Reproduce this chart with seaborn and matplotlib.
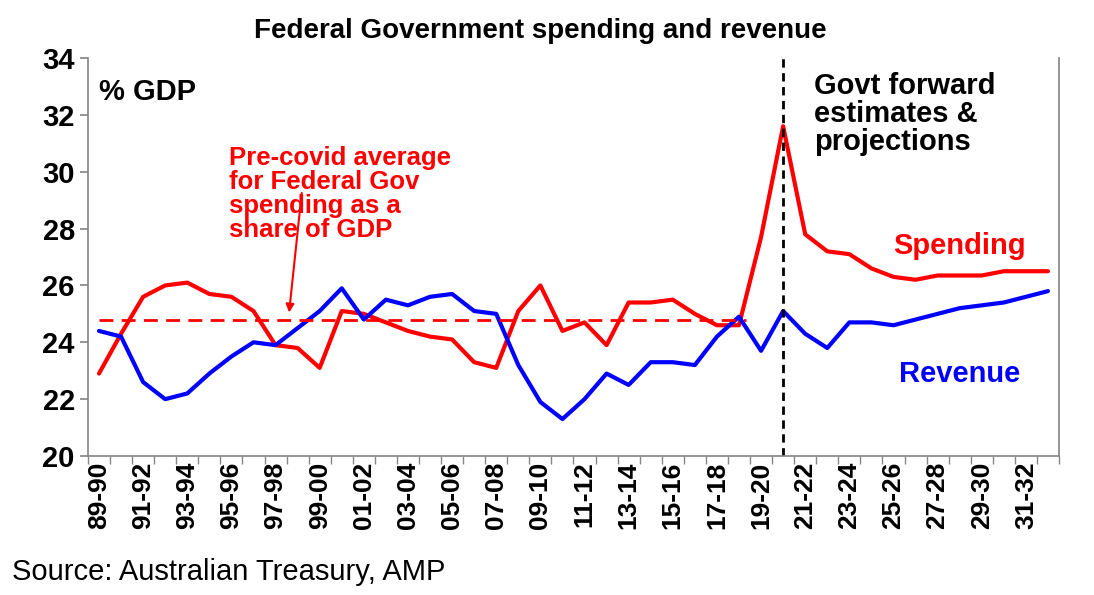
import matplotlib
matplotlib.use("Agg")
import matplotlib.pyplot as plt
import seaborn as sns
import pandas as pd

years = list(range(1989, 2033))
labels = [f"{y%100:02d}-{(y+1)%100:02d}" for y in years]
spending = [22.9,24.3,25.6,26.0,26.1,25.7,25.6,25.1,23.9,23.8,23.1,25.1,25.0,24.7,24.4,24.2,24.1,23.3,23.1,25.1,
            26.0,24.4,24.7,23.9,25.4,25.4,25.5,25.0,24.6,24.6,27.7,31.6,27.8,27.2,27.1,26.6,26.3,26.2,26.35,26.35,
            26.35,26.5,26.5,26.5]
revenue = [24.4,24.2,22.6,22.0,22.2,22.9,23.5,24.0,23.9,24.5,25.1,25.9,24.8,25.5,25.3,25.6,25.7,25.1,25.0,23.2,
           21.9,21.3,22.0,22.9,22.5,23.3,23.3,23.2,24.2,24.9,23.7,25.1,24.3,23.8,24.7,24.7,24.6,24.8,25.0,25.2,
           25.3,25.4,25.6,25.8]
precovid_avg = 24.8

sns.set_theme(style="white")
plt.rcParams['font.family'] = ['Liberation Sans', 'DejaVu Sans']
plt.rcParams['text.color'] = 'black'
df = pd.DataFrame({"i": range(len(years)), "Spending": spending, "Revenue": revenue})

fig = plt.figure(figsize=(10.94, 5.95), dpi=100)
ax = fig.add_axes([0.0804, 0.2336, 0.8876, 0.6689])
sns.lineplot(data=df, x="i", y="Spending", color="#ff0000", lw=3, ax=ax)
sns.lineplot(data=df, x="i", y="Revenue", color="#0000ff", lw=3, ax=ax)
ax.plot([0, 29.3], [precovid_avg]*2, color="#ff0000", ls=(0, (5, 3)), lw=2)
ax.axvline(31, color="black", ls=(0, (3, 2)), lw=2)

ax.set_xlim(-0.45, 43.5)
ax.set_ylim(20, 34)
ax.set_yticks(range(20, 35, 2))
ax.set_xticks(range(0, 44, 2))
ax.set_xticks([i + 0.5 for i in range(-1, 44)], minor=True)
ax.set_xticklabels(labels[::2], rotation=90, fontsize=19, fontweight="bold", color="black")
for t in ax.get_yticklabels():
    t.set_fontsize(21); t.set_fontweight("bold"); t.set_color("black")
ax.set_xlabel(""); ax.set_ylabel("")
for s in ["top"]:
    ax.spines[s].set_visible(False)
for s in ["left", "bottom", "right"]:
    ax.spines[s].set_color("#888888")
ax.tick_params(axis="x", which="major", length=0, pad=4)
ax.tick_params(axis="x", which="minor", length=6, color="#888888", bottom=True)
ax.tick_params(axis="y", length=6, color="#888888", left=True)

fig.text(0.494, 0.948, "Federal Government spending and revenue", fontsize=20, fontweight="bold", ha="center", va="center")
ax.text(0.0, 32.8, "% GDP", fontsize=21, fontweight="bold", va="center")
ax.text(32.4, 33.5, "Govt forward\nestimates &\nprojections", fontsize=21, fontweight="bold", va="top", linespacing=1.0)
ax.text(39.0, 27.4, "Spending", fontsize=21, fontweight="bold", color="#ff0000", ha="center", va="center")
ax.text(39.0, 22.9, "Revenue", fontsize=21, fontweight="bold", color="#0000ff", ha="center", va="center")
ax.text(5.9, 30.9, "Pre-covid average\nfor Federal Gov\nspending as a\nshare of GDP", fontsize=18.5, fontweight="bold",
        color="#ff0000", va="top", linespacing=1.0)
ax.annotate("", xy=(8.6, 24.95), xytext=(9.2, 29.35),
            arrowprops=dict(arrowstyle="-|>", color="#ff0000", lw=1.5))
fig.text(0.011, 0.039, "Source: Australian Treasury, AMP", fontsize=21, va="center")
fig.savefig("out.png", dpi=100)
